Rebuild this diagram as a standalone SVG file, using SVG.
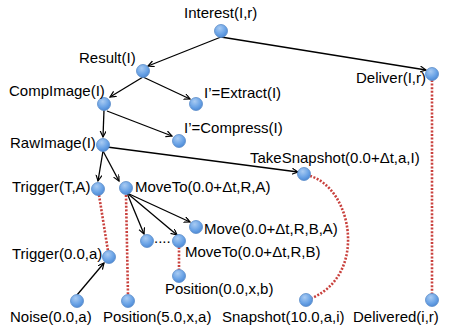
<svg xmlns="http://www.w3.org/2000/svg" width="450" height="328" viewBox="0 0 450 328">
<defs>
<radialGradient id="g" cx="0.4" cy="0.3" r="0.75">
<stop offset="0" stop-color="#a9cbf2"/>
<stop offset="0.6" stop-color="#6aa3e6"/>
<stop offset="1" stop-color="#4a86d2"/>
</radialGradient>
<marker id="a" markerWidth="8" markerHeight="8" refX="6" refY="3" orient="auto" markerUnits="userSpaceOnUse">
<path d="M0,0 L6,3 L0,6" fill="none" stroke="#000" stroke-width="1.2"/>
</marker>
</defs>
<style>
text{font-family:"Liberation Sans",Arial,sans-serif;font-size:15px;fill:#000}
circle{fill:url(#g);stroke:#5a8cc8;stroke-width:0.8}
.e{stroke:#000;stroke-width:1.3;fill:none;marker-end:url(#a)}
.d{stroke:#c9413d;stroke-width:2.6;fill:none;stroke-dasharray:2 1.6}
</style>
<rect width="450" height="328" fill="#fff"/>
<g id="connectors">
<path class="e" d="M221,37 L148,66"/>
<path class="e" d="M221,37 L426,70"/>
<path class="e" d="M143,77 L110,97"/>
<path class="e" d="M143,77 L190,99"/>
<path class="e" d="M104,110 L103,137"/>
<path class="e" d="M107,111 L172,136"/>
<path class="e" d="M103,151 L98,181"/>
<path class="e" d="M103,151 L119,181"/>
<path class="e" d="M107,147 L298,172"/>
<path class="e" d="M127,193 L190,222"/>
<path class="e" d="M127,193 L144,234"/>
<path class="e" d="M127,193 L177,235"/>
<path class="e" d="M77,295 L104,263"/>
<path class="d" d="M99,195 L108,251"/>
<path class="d" d="M126,195 L128,295"/>
<path class="d" d="M179,247 L179,270"/>
<path class="d" d="M432,80 L432,294"/>
<path class="d" d="M310,176 C352,188 368,274 312,298"/>
</g>
<g id="interest"><circle cx="221" cy="31" r="6.5"/><text x="184" y="18">Interest(I,r)</text></g>
<g id="result"><circle cx="143" cy="71" r="6.5"/><text x="79" y="63">Result(I)</text></g>
<g id="compimage"><circle cx="104" cy="104" r="6.5"/><text x="9" y="96">CompImage(I)</text></g>
<g id="extract"><circle cx="196" cy="104" r="6.5"/><text x="204" y="98">I’=Extract(I)</text></g>
<g id="deliver"><circle cx="432" cy="74" r="6.5"/><text x="356" y="83">Deliver(I,r)</text></g>
<g id="compress"><circle cx="179" cy="141" r="6.5"/><text x="184" y="133">I’=Compress(I)</text></g>
<g id="rawimage"><circle cx="103" cy="145" r="6.5"/><text x="10" y="148">RawImage(I)</text></g>
<g id="takesnapshot"><circle cx="304" cy="174" r="6.5"/><text x="250" y="163">TakeSnapshot(0.0+Δt,a,I)</text></g>
<g id="triggerTA"><circle cx="98" cy="189" r="6.5"/><text x="12" y="192">Trigger(T,A)</text></g>
<g id="movetoA"><circle cx="126" cy="188" r="6.5"/><text x="135" y="192">MoveTo(0.0+Δt,R,A)</text></g>
<g id="moveBA"><circle cx="196" cy="227" r="6.5"/><text x="204" y="234">Move(0.0+Δt,R,B,A)</text></g>
<g id="dots"><circle cx="147" cy="241" r="6.5"/><text x="154" y="243">....</text></g>
<g id="movetoB"><circle cx="179" cy="241" r="6.5"/><text x="185" y="257">MoveTo(0.0+Δt,R,B)</text></g>
<g id="positionB"><circle cx="179" cy="276" r="6.5"/><text x="165" y="294">Position(0.0,x,b)</text></g>
<g id="trigger0"><circle cx="109" cy="257" r="6.5"/><text x="12" y="259">Trigger(0.0,a)</text></g>
<g id="noise"><circle cx="77" cy="301" r="6.5"/><text x="10" y="322">Noise(0.0,a)</text></g>
<g id="position5"><circle cx="128" cy="301" r="6.5"/><text x="103" y="322">Position(5.0,x,a)</text></g>
<g id="snapshot"><circle cx="306" cy="300" r="6.5"/><text x="222" y="322">Snapshot(10.0,a,i)</text></g>
<g id="delivered"><circle cx="432" cy="300" r="6.5"/><text x="353" y="322">Delivered(i,r)</text></g>
</svg>
